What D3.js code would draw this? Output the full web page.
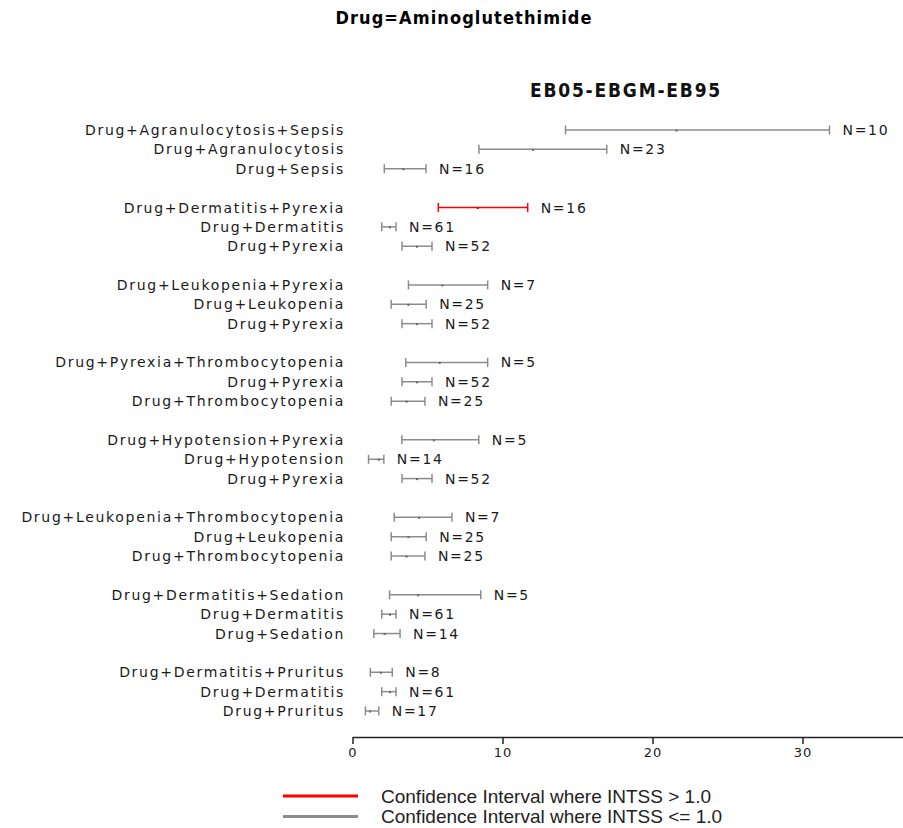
<!DOCTYPE html>
<html>
<head>
<meta charset="utf-8">
<script src="https://cdn.jsdelivr.net/npm/d3@7/dist/d3.min.js"></script>
<style>
  html, body { margin: 0; padding: 0; background: #fff; }
  svg { display: block; }
</style>
</head>
<body>
<svg id="chart" width="903" height="828"></svg>
<script>
// ---- data ----
const title = "Drug=Aminoglutethimide";
const subtitle = "EB05-EBGM-EB95";
const groups = [
  ["Drug+Agranulocytosis+Sepsis", "Drug+Agranulocytosis", "Drug+Sepsis"],
  ["Drug+Dermatitis+Pyrexia", "Drug+Dermatitis", "Drug+Pyrexia"],
  ["Drug+Leukopenia+Pyrexia", "Drug+Leukopenia", "Drug+Pyrexia"],
  ["Drug+Pyrexia+Thrombocytopenia", "Drug+Pyrexia", "Drug+Thrombocytopenia"],
  ["Drug+Hypotension+Pyrexia", "Drug+Hypotension", "Drug+Pyrexia"],
  ["Drug+Leukopenia+Thrombocytopenia", "Drug+Leukopenia", "Drug+Thrombocytopenia"],
  ["Drug+Dermatitis+Sedation", "Drug+Dermatitis", "Drug+Sedation"],
  ["Drug+Dermatitis+Pruritus", "Drug+Dermatitis", "Drug+Pruritus"]
];
const eb05 = [
  [14.2, 8.43, 2.12],
  [5.72, 1.95, 3.3],
  [3.73, 2.58, 3.3],
  [3.55, 3.3, 2.58],
  [3.29, 1.07, 3.3],
  [2.78, 2.58, 2.58],
  [2.47, 1.95, 1.42],
  [1.19, 1.95, 0.86]
];
const ebgm = [
  [21.6, 12.03, 3.39],
  [8.35, 2.5, 4.3],
  [5.99, 3.73, 4.3],
  [5.81, 4.3, 3.6],
  [5.42, 1.75, 4.3],
  [4.45, 3.73, 3.6],
  [4.37, 2.5, 2.14],
  [1.89, 2.5, 1.17]
];
const eb95 = [
  [31.8, 16.95, 4.9],
  [11.68, 2.9, 5.3],
  [9.01, 4.91, 5.3],
  [9.01, 5.3, 4.83],
  [8.42, 2.09, 5.3],
  [6.63, 4.91, 4.83],
  [8.55, 2.9, 3.17],
  [2.65, 2.9, 1.75]
];
const counts = [
  [10, 23, 16],
  [16, 61, 52],
  [7, 25, 52],
  [5, 52, 25],
  [5, 14, 52],
  [7, 25, 25],
  [5, 61, 14],
  [8, 61, 17]
];
const intssHigh = [
  [false, false, false],
  [true, false, false],
  [false, false, false],
  [false, false, false],
  [false, false, false],
  [false, false, false],
  [false, false, false],
  [false, false, false]
];
const xTicks = [0, 10, 20, 30];
const legendLabels = ["Confidence Interval where INTSS > 1.0", "Confidence Interval where INTSS <= 1.0"];

// ---- build rows ----
const rows = [];
groups.forEach((g, gi) => {
  g.forEach((label, ri) => {
    rows.push({
      slot: gi * 4 + ri,
      label,
      lo: eb05[gi][ri],
      mid: ebgm[gi][ri],
      hi: eb95[gi][ri],
      n: counts[gi][ri],
      red: intssHigh[gi][ri]
    });
  });
});

const RED = "#ff0000", GRAY = "#8c8c8c";
const svg = d3.select("#chart");

const x = d3.scaleLinear().domain([0, 36.7]).range([352.5, 903]);
const y = d3.scaleLinear().domain([0, 30]).range([130, 711]);

// titles
svg.append("text")
  .attr("x", 464).attr("y", 24)
  .attr("text-anchor", "middle")
  .attr("font-family", "DejaVu Sans Condensed, DejaVu Sans")
  .attr("font-stretch", "condensed")
  .attr("font-weight", "bold")
  .attr("font-size", 18)
  .attr("letter-spacing", 1.1)
  .attr("fill", "#000")
  .text(title);

svg.append("text")
  .attr("x", 626).attr("y", 97)
  .attr("text-anchor", "middle")
  .attr("font-family", "DejaVu Sans Condensed, DejaVu Sans")
  .attr("font-stretch", "condensed")
  .attr("font-weight", "bold")
  .attr("font-size", 19)
  .attr("letter-spacing", 1.8)
  .attr("fill", "#111")
  .text(subtitle);

// row labels
svg.append("g").selectAll("text")
  .data(rows).join("text")
  .attr("x", 345)
  .attr("y", d => y(d.slot))
  .attr("dy", "0.36em")
  .attr("text-anchor", "end")
  .attr("font-family", "DejaVu Sans")
  .attr("font-size", 14)
  .attr("letter-spacing", 1.7)
  .attr("fill", "#1a1a1a")
  .text(d => d.label);

// error bars
const bars = svg.append("g").selectAll("g")
  .data(rows).join("g")
  .attr("stroke", d => d.red ? RED : GRAY)
  .attr("stroke-width", 1.5);

bars.append("line")
  .attr("x1", d => x(d.lo)).attr("x2", d => x(d.hi))
  .attr("y1", d => y(d.slot)).attr("y2", d => y(d.slot));
bars.append("line")
  .attr("x1", d => x(d.lo)).attr("x2", d => x(d.lo))
  .attr("y1", d => y(d.slot) - 4.5).attr("y2", d => y(d.slot) + 4.5);
bars.append("line")
  .attr("x1", d => x(d.hi)).attr("x2", d => x(d.hi))
  .attr("y1", d => y(d.slot) - 4.5).attr("y2", d => y(d.slot) + 4.5);

svg.append("g").selectAll("rect")
  .data(rows).join("rect")
  .attr("x", d => x(d.mid) - 1)
  .attr("y", d => y(d.slot) - 0.5)
  .attr("width", 2).attr("height", 2)
  .attr("fill", d => d.red ? "#cc0000" : "#666");

// N labels
svg.append("g").selectAll("text")
  .data(rows).join("text")
  .attr("x", d => x(d.hi) + 13)
  .attr("y", d => y(d.slot))
  .attr("dy", "0.36em")
  .attr("font-family", "DejaVu Sans")
  .attr("font-size", 14)
  .attr("letter-spacing", 1.7)
  .attr("fill", "#1a1a1a")
  .text(d => "N=" + d.n);

// x axis
const axis = d3.axisBottom(x).tickValues(xTicks).tickSizeInner(7).tickSizeOuter(0).tickPadding(4)
  .tickFormat(d3.format("d"));
const ax = svg.append("g").attr("transform", "translate(0,737)").call(axis);
ax.select(".domain").attr("stroke", "#222").attr("stroke-width", 1.5);
ax.selectAll(".tick line").attr("stroke", "#222").attr("stroke-width", 1.5);
ax.selectAll(".tick text")
  .attr("font-family", "DejaVu Sans")
  .attr("font-size", 13)
  .attr("letter-spacing", 1)
  .attr("fill", "#222");

// legend
const legColors = [RED, GRAY];
const leg = svg.append("g").selectAll("g")
  .data(legendLabels).join("g")
  .attr("transform", (d, i) => `translate(0,${796 + i * 20.5})`);
leg.append("line")
  .attr("x1", 283).attr("x2", 358)
  .attr("stroke", (d, i) => legColors[i])
  .attr("stroke-width", 3);
leg.append("text")
  .attr("x", 381).attr("y", 0).attr("dy", "0.36em")
  .attr("font-family", "Liberation Sans, Arial")
  .attr("font-size", 19)
  .attr("fill", "#222")
  .text(d => d);
</script>
</body>
</html>
